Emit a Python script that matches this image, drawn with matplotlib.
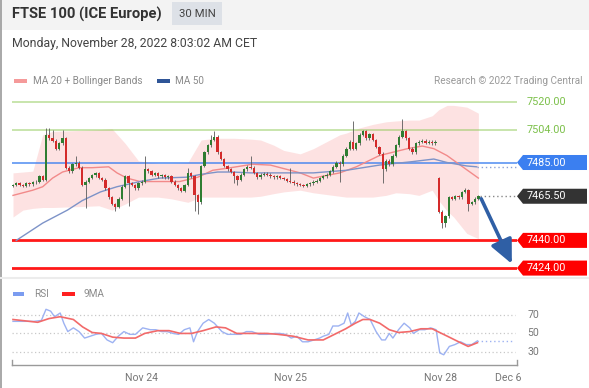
import matplotlib
matplotlib.use("Agg")
import matplotlib.pyplot as plt
from matplotlib.patches import Polygon, Rectangle, FancyArrowPatch
from matplotlib.transforms import blended_transform_factory

plt.rcParams['font.family'] = ['Roboto', 'DejaVu Sans']

W, H = 589, 388

# 30 min closes, Nov 23 -> Nov 28 (index = candle number)
closes = [
    7472, 7473, 7472, 7471.5, 7473, 7472.5, 7473.5, 7474, 7477, 7475,
    7501, 7499, 7497.5, 7493, 7496, 7499, 7482, 7480, 7484, 7485,
    7482, 7472, 7474, 7476, 7477.5, 7479, 7476, 7475, 7470, 7465,
    7461, 7459.5, 7464, 7471, 7477, 7473, 7472, 7470, 7473, 7474,
    7481, 7480, 7478, 7479, 7477, 7477.5, 7476.5, 7477, 7474, 7472,
    7470, 7468.5, 7472, 7479, 7477, 7466, 7462, 7483, 7491, 7495,
    7498, 7500, 7491, 7487, 7483, 7481, 7479.5, 7477, 7475, 7478,
    7481, 7482.5, 7482, 7479, 7476.5, 7478, 7478.5, 7478, 7477, 7476.5,
    7477, 7476, 7475.5, 7474.5, 7474, 7473, 7472.5, 7472, 7471.5, 7472.5,
    7473, 7474, 7474.5, 7476, 7477, 7478, 7480, 7482.5, 7485, 7484,
    7489, 7493, 7497, 7493, 7496, 7501, 7503, 7499, 7501.5, 7498,
    7494, 7490, 7481, 7486, 7484, 7489, 7495, 7500, 7503, 7499,
    7493, 7491, 7496, 7497, 7497.5, 7496.5, 7497, 7496, 7497,
    7456.5, 7450, 7454, 7465, 7464, 7465.5, 7465, 7468, 7469, 7461,
    7462, 7464, 7465.5,
]
gap_opens = {0: 7471.5, 129: 7476}
wick_highs = {10: 7505, 11: 7505, 12: 7504, 15: 7504, 19: 7489, 40: 7489,
              53: 7482, 60: 7501, 61: 7503, 72: 7489, 84: 7482, 103: 7509,
              118: 7510, 137: 7470.5}
wick_lows = {22: 7458.5, 31: 7457, 35: 7460, 55: 7457, 56: 7455, 67: 7473,
             68: 7472, 99: 7474, 112: 7473, 130: 7447, 131: 7447.5, 138: 7457}

# moving averages
ma20_pos = [0, 6, 9, 12, 15, 20, 24, 29, 31.5, 34.5, 38.5, 44.5, 50.5, 56, 60.5,
            66, 72.5, 78, 83, 87, 91, 99, 104, 111, 119.5, 124, 127.5, 131.5,
            135.5, 141]
ma20 = [7466, 7469, 7471, 7476, 7479.5, 7482, 7482, 7482.5, 7479, 7476, 7474,
        7474, 7474, 7476.5, 7480.5, 7482, 7484, 7483.5, 7481, 7479, 7476,
        7479, 7482.5, 7489, 7493, 7494.5, 7493, 7489, 7483.5, 7476]
ma50_pos = [1, 9, 16.5, 21, 26.5, 31.5, 38.5, 44.5, 52.5, 56.5, 62, 66.5, 72,
            77, 84, 91, 101, 111, 121, 127.5, 131.5, 137.5, 140.5]
ma50 = [7440, 7450, 7457.5, 7463, 7468, 7471, 7474, 7476, 7476.5, 7478,
        7479.5, 7479.5, 7479, 7479, 7479, 7479, 7480.5, 7483.5, 7485.5, 7487,
        7485, 7483, 7482.5]
bb_pos = [0, 3, 6, 9, 12, 20, 26, 30, 34, 38, 44, 48, 53, 57, 61, 67, 72, 75,
          79, 82, 87, 91, 95, 99, 101, 105, 109, 113, 116, 120, 123, 127, 129,
          131.5, 133.5, 137.5, 141]
bb_upper = [7479, 7479.5, 7480, 7501, 7503, 7503.5, 7504, 7504.5, 7496, 7486,
            7484.5, 7484.5, 7485, 7498, 7499, 7499, 7498.5, 7498, 7495, 7492,
            7490, 7493, 7497, 7501, 7502, 7505, 7507, 7508.5, 7509, 7509.5,
            7509.5, 7512, 7515.5, 7518, 7518, 7517, 7513.5]
bb_lower = [7453.5, 7457.5, 7458.5, 7459, 7459, 7459.5, 7460, 7457.5, 7461,
            7465, 7465, 7464, 7462, 7465, 7465, 7465, 7465, 7465.5, 7467, 7468,
            7469, 7467.5, 7466.5, 7465.5, 7465, 7465, 7465, 7466, 7467.5, 7467,
            7466, 7469, 7463, 7457, 7453.5, 7444, 7441]

# RSI panel
rsi_pos = [0, 6.3, 8.6, 10, 11.4, 12.6, 14.3, 15.4, 16.6, 18.3, 20, 21.7, 23.4,
           25.1, 26.8, 28.5, 30.2, 31.9, 33.6, 35.4, 37.1, 39.3, 41.6, 43.3, 45,
           46.7, 48.5, 50.2, 51.9, 53.6, 54.7, 55.9, 57.6, 59.3, 61, 63.3, 65,
           67.2, 69, 70.7, 72.4, 74.6, 76.9, 79.2, 80.9, 82.6, 84.3, 86, 87.7,
           89.4, 91.2, 92.9, 94, 95.7, 96.9, 98.6, 100.3, 101.4, 102.5, 103.7,
           104.8, 106.5, 108.2, 110, 111.7, 112.8, 114, 115.1, 116.8, 118.5,
           120.2, 121.3, 123.1, 124.8, 126.5, 128.2, 129.3, 130.5, 132.2, 133.9,
           135.6, 137.3, 139, 140.7]
rsi = [63, 63, 64, 76, 74, 68, 72, 61, 52, 56, 52, 45, 47, 49, 50, 43, 40, 47,
       52, 49, 49, 56, 54, 54, 52, 52, 50, 49, 54, 56, 41, 52, 61, 65, 61, 52,
       49, 49, 49, 52, 52, 49, 49, 50, 50, 49, 45, 47, 41, 41, 43, 45, 47, 49,
       58, 58, 61, 72, 59, 63, 72, 68, 65, 52, 43, 43, 50, 45, 54, 61, 56, 50,
       54, 54, 56, 54, 29, 27, 36, 38, 41, 38, 38, 42]
ma9_pos = [0, 7.5, 10.9, 14.3, 18.3, 21.1, 24, 26.8, 30.2, 33.6, 37.1, 39.9,
           43.9, 47.3, 50.7, 54.1, 57.6, 61.5, 64.4, 67.8, 72.4, 76.9, 80.3,
           84.9, 89.4, 94, 97.4, 100.8, 103.7, 106, 108.2, 111.1, 114, 116.8,
           120.2, 123.6, 127, 128.7, 131.6, 135, 137.9, 140.7]
ma9 = [65, 62, 66, 68, 65, 57, 51, 50, 46, 45, 45, 50, 53, 53, 50, 50, 53, 57,
       56, 50, 50, 50, 49, 47, 43, 43, 49, 55, 61, 65, 65, 61, 54, 51, 52, 55,
       55, 52, 47, 41, 36, 40]
rsi_levels = [70, 50, 30]

tick_pos = [39, 84, 129.5, 150]
tick_labels = ['Nov 24', 'Nov 25', 'Nov 28', 'Dec 6']

# key levels (price, colour)
levels = [7520, 7504, 7485, 7465.5, 7440, 7424]
level_colors = ['#8cc751', '#8cc751', '#3b7ff0', '#333333', '#ff0000', '#ff0000']
target = 7424


def fx(x):
    return x / W


def fy(y):
    return 1 - y / H


fig = plt.figure(figsize=(W / 100, H / 100), dpi=100)
fig.patch.set_facecolor('white')

# header
fig.patches.append(Rectangle((0, fy(30)), 1, 30 / H, transform=fig.transFigure,
                             facecolor='#f3f3f3', edgecolor='none', zorder=0))
fig.patches.append(Rectangle((fx(172), fy(25)), 50 / W, 23 / H, transform=fig.transFigure,
                             facecolor='#dde1e7', edgecolor='none', zorder=1))
fig.lines.append(plt.Line2D([fx(0.5), fx(0.5)], [0, 1], transform=fig.transFigure,
                            color='#9a9a9a', lw=1.2))
fig.lines.append(plt.Line2D([0, 1], [fy(278), fy(278)], transform=fig.transFigure,
                            color='#ececec', lw=1.5))
fig.text(fx(12), fy(14), 'FTSE 100 (ICE Europe)', fontsize=10.6, fontweight='bold',
         color='#333333', va='center')
fig.text(fx(197), fy(14), '30 MIN', fontsize=8.2, color='#444444', va='center', ha='center')
fig.text(fx(12), fy(43), 'Monday, November 28, 2022 8:03:02 AM CET', fontsize=8.8,
         color='#444444', va='center')

# legends
fig.patches.append(Rectangle((fx(14), fy(83)), 13 / W, 4 / H, transform=fig.transFigure,
                             facecolor='#f59a9a', edgecolor='none'))
fig.text(fx(33), fy(81), 'MA 20 + Bollinger Bands', fontsize=7.2, color='#8a8a8a', va='center')
fig.patches.append(Rectangle((fx(157), fy(83)), 13 / W, 4 / H, transform=fig.transFigure,
                             facecolor='#2f5597', edgecolor='none'))
fig.text(fx(175), fy(81), 'MA 50', fontsize=7.2, color='#8a8a8a', va='center')
fig.text(fx(583), fy(81), 'Research \u00a9 2022 Trading Central', fontsize=7.2,
         color='#9a9a9a', va='center', ha='right')

fig.patches.append(Rectangle((fx(13), fy(296)), 11 / W, 4 / H, transform=fig.transFigure,
                             facecolor='#7b9cf0', edgecolor='none'))
fig.text(fx(34), fy(294), 'RSI', fontsize=7.2, color='#8a8a8a', va='center')
fig.patches.append(Rectangle((fx(62), fy(296)), 13 / W, 4 / H, transform=fig.transFigure,
                             facecolor='#ff2020', edgecolor='none'))
fig.text(fx(83), fy(294), '9MA', fontsize=7.2, color='#8a8a8a', va='center')

# price panel
ax = fig.add_axes([fx(12), fy(275), (517 - 12) / W, (275 - 95) / H])
ax.set_xlim(-0.3, 152.7)
ax.set_ylim(7420, 7524)
ax.axis('off')

ax.fill_between(bb_pos, bb_lower, bb_upper, color='#fdd9d9', alpha=0.75, lw=0, zorder=1)

for p, c in zip(levels, level_colors):
    if p == 7465.5:
        continue
    lw = 2.0 if c == '#ff0000' else 1.1
    ax.axhline(p, color=c, lw=lw, alpha=0.9 if c != '#8cc751' else 0.6, zorder=2)

ax.plot(ma20_pos, ma20, color='#f28a8a', lw=1.0, zorder=3)
ax.plot(ma50_pos, ma50, color='#7d93c8', lw=1.0, zorder=3)

opens = []
for i, c in enumerate(closes):
    opens.append(gap_opens.get(i, closes[i - 1] if i > 0 else c))
for i, (o, c) in enumerate(zip(opens, closes)):
    hi = wick_highs.get(i, max(o, c) + 0.8)
    lo = wick_lows.get(i, min(o, c) - 0.8)
    ax.vlines(i, lo, hi, color='#5a5a5a', lw=0.6, zorder=4)
    col = '#2f7d32' if c >= o else '#d42a2a'
    bottom = min(o, c)
    height = max(abs(c - o), 0.5)
    ax.bar(i, height, bottom=bottom, width=0.7, color=col, lw=0, zorder=5)

n = len(closes)
ax.plot([ma50_pos[-1], 152.7], [ma50[-1], ma50[-1]], color='#8da2d6', lw=1, ls=(0, (1, 2)), zorder=3)
ax.plot([n - 0.5, 152.7], [closes[-1], closes[-1]], color='#888888', lw=1, ls=(0, (1, 2)), zorder=3)

arrow = FancyArrowPatch((n - 0.5, closes[-1]), (151.5, target + 1),
                        arrowstyle='-|>,head_length=0.9,head_width=0.42', mutation_scale=16,
                        color='#2f5fa5', lw=2.6, zorder=6, clip_on=False)
ax.add_patch(arrow)

tr = blended_transform_factory(ax.transAxes, ax.transData)
x0 = 1.0
xp = 1.0 + 6 / 505
x1 = (587 - 12) / 505
h = 7.5 / 1.729
for p, c in zip(levels, level_colors):
    label = f'{p:.2f}'
    if c == '#8cc751':
        ax.text(x0 + 10 / 505, p, label, transform=tr, color='#7cc04a', fontsize=7.8,
                va='center', ha='left', clip_on=False)
        continue
    poly = Polygon([[x0, p], [xp, p + h], [x1, p + h], [x1, p - h], [xp, p - h]],
                   closed=True, transform=tr, facecolor=c, edgecolor='none', clip_on=False,
                   zorder=7)
    ax.add_patch(poly)
    ax.text(x0 + 10 / 505, p, label, transform=tr, color='white', fontsize=7.8,
            va='center', ha='left', clip_on=False, zorder=8)

# RSI panel
ax2 = fig.add_axes([fx(12), fy(365), (517 - 12) / W, (365 - 300) / H])
ax2.set_xlim(-0.3, 152.7)
ax2.set_ylim(16, 86)
for s in ['top', 'left', 'right']:
    ax2.spines[s].set_visible(False)
ax2.spines['bottom'].set_color('#9a9a9a')
ax2.spines['bottom'].set_linewidth(1.0)
ax2.set_yticks([])
ax2.set_xticks(tick_pos)
ax2.set_xticklabels(tick_labels)
ax2.tick_params(axis='x', length=0, pad=6, labelsize=7.6, labelcolor='#777777')
for xe in [0, 1]:
    ax2.plot([xe, xe], [0, 0.08], transform=ax2.transAxes, color='#9a9a9a', lw=1.0,
             clip_on=False)

for lv in rsi_levels:
    ax2.axhline(lv, color='#c8c8c8', lw=0.9, ls=(0, (1, 2)), xmax=(515 - 12) / 505)
    ax2.text(1.02, lv, str(lv), transform=blended_transform_factory(ax2.transAxes, ax2.transData),
             fontsize=7.6, color='#777777', va='center', ha='left', clip_on=False)

ax2.plot(rsi_pos, rsi, color='#9db2f2', lw=1.0, zorder=3)
ax2.plot(ma9_pos, ma9, color='#f26a6a', lw=1.2, zorder=4)
ax2.plot([rsi_pos[-1], 151.5], [rsi[-1], rsi[-1]], color='#9db2f2', lw=1.0, ls=(0, (1, 2)))

fig.savefig('out.png', dpi=100)
